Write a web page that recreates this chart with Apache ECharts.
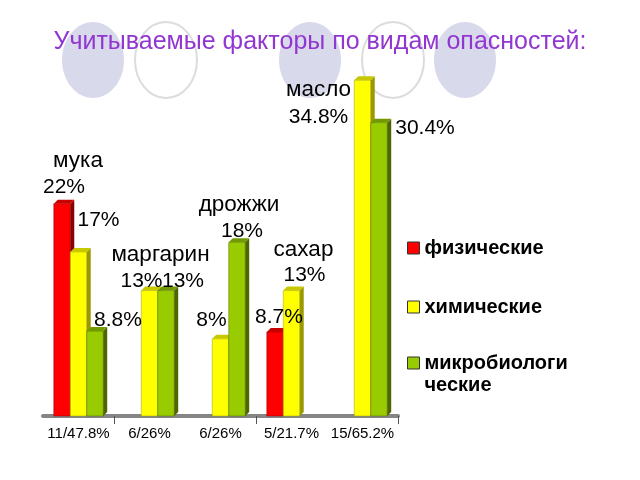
<!DOCTYPE html>
<html>
<head>
<meta charset="utf-8">
<script src="https://cdn.jsdelivr.net/npm/echarts@6/dist/echarts.min.js"></script>
<style>
  html, body { margin: 0; padding: 0; background: #fff; }
  #chart { width: 640px; height: 480px; }
</style>
</head>
<body>
<div id="chart"></div>
<script>
// data
const categories = ['11/47.8%', '6/26%', '6/26%', '5/21.7%', '15/65.2%']
const products = ['мука', 'маргарин', 'дрожжи', 'сахар', 'масло']
const seriesNames = ['физические', 'химические', 'микробиологические']
const physical = [22, null, null, 8.7, null]
const chemical = [17, 13, 8, 13, 34.8]
const microbio = [8.8, 13, 18, null, 30.4]

// label placement relative to the top of each bar (dx, dy)
const valueOffsets = [
  [[2, -16], null, null, [4, -15], null],
  [[20, -32], [-8, -9], [-9, -19], [13, -15], [-44, 37]],
  [[23, -11], [17, -9], [5, -11], null, [46, 6]],
]
const nameOffsets = [
  { s: 0, dx: 16, dy: -43 },
  { s: 1, dx: 11, dy: -36 },
  { s: 2, dx: 2, dy: -38 },
  { s: 1, dx: 12, dy: -41 },
  { s: 1, dx: -44, dy: 10 },
]

const front = ['#ff0000', '#ffff00', '#99cc00']
const side = ['#8c0000', '#9a9a00', '#4d6600']
const topFace = ['#c80000', '#c8c800', '#739900']
const fam = '"Liberation Sans", Arial, sans-serif'
const valueFont = '21px ' + fam
const nameFont = '22.5px ' + fam

const makeRender = (s) => (params, api) => {
  const c = api.value(0)
  const v = api.value(1)
  const base = api.coord([c, 0])
  const top = api.coord([c, v])
  const w = api.size([1, 0])[0] * 0.232
  const cx = base[0] + (s - 1) * w
  const x0 = cx - w / 2, x1 = cx + w / 2, y0 = top[1], y1 = base[1]
  const d = 4
  const children = [
    { type: 'rect', shape: { x: x0, y: y0, width: w, height: y1 - y0 }, style: { fill: front[s], stroke: side[s], lineWidth: 0.5 } },
    { type: 'polygon', shape: { points: [[x1, y0], [x1 + d, y0 - d], [x1 + d, y1 - d], [x1, y1]] }, style: { fill: side[s] } },
    { type: 'polygon', shape: { points: [[x0, y0], [x0 + d, y0 - d], [x1 + d, y0 - d], [x1, y0]] }, style: { fill: topFace[s] } },
  ]
  const off = valueOffsets[s][c]
  if (off) {
    children.push({ type: 'text', z2: 10, style: { text: v + '%', x: cx + off[0], y: y0 + off[1], font: valueFont, fill: '#000', align: 'center', verticalAlign: 'middle' } })
  }
  const n = nameOffsets[c]
  if (n && n.s === s) {
    children.push({ type: 'text', z2: 10, style: { text: products[c], x: cx + n.dx, y: y0 + n.dy, font: nameFont, fill: '#000', align: 'center', verticalAlign: 'middle' } })
  }
  return { type: 'group', children }
}

const toData = (arr) => arr.map((v, i) => [i, v]).filter(d => d[1] != null)

const circles = [
  { cx: 93, fill: true }, { cx: 166, fill: false }, { cx: 310, fill: true },
  { cx: 393, fill: false }, { cx: 465, fill: true },
]

const legendText = { fontSize: 20, fontWeight: 'bold', lineHeight: 22, color: '#000', fontFamily: fam }

var myChart = echarts.init(document.getElementById('chart'))
myChart.setOption({
  animation: false,
  title: {
    text: 'Учитываемые факторы по видам опасностей:',
    left: 'center', top: 30, padding: 0,
    textStyle: { color: '#9236d2', fontSize: 25, fontWeight: 'normal', fontFamily: fam },
  },
  graphic: circles.map(c => ({
    type: 'ellipse', z: -1, silent: true,
    shape: { cx: c.cx, cy: 60, rx: 31, ry: 38 },
    style: c.fill ? { fill: '#d9d9ec' } : { fill: '#fff', stroke: '#dcdcdc', lineWidth: 2 },
  })),
  legend: [
    {
      data: seriesNames.slice(0, 2), orient: 'vertical', left: 407, top: 237, padding: 0,
      itemWidth: 12, itemHeight: 12, itemGap: 37, icon: 'rect',
      itemStyle: { borderColor: '#333', borderWidth: 1 },
      textStyle: legendText,
    },
    {
      data: [seriesNames[2]],
      // leading empty line keeps the icon level with the first visible line
      formatter: () => '\nмикробиологи\nческие',
      orient: 'vertical', left: 407, top: 330, padding: 0,
      itemWidth: 12, itemHeight: 12, icon: 'rect',
      itemStyle: { borderColor: '#333', borderWidth: 1 },
      textStyle: legendText,
    },
  ],
  grid: { left: 43, right: 242, top: 30, bottom: 64 },
  xAxis: {
    type: 'category', data: categories,
    axisLine: { lineStyle: { color: '#858585', width: 4 } },
    axisTick: { show: true, lineStyle: { color: '#555', width: 1 }, length: 8, interval: (i) => i === 1 || i === 3 },
    axisLabel: { color: '#000', fontSize: 15, margin: 10, interval: 0, fontFamily: fam },
  },
  yAxis: { type: 'value', min: 0, max: 40, show: false, splitLine: { show: false } },
  series: [physical, chemical, microbio].map((arr, s) => ({
    name: seriesNames[s],
    type: 'custom',
    renderItem: makeRender(s),
    itemStyle: { color: front[s] },
    encode: { x: 0, y: 1 },
    data: toData(arr),
  })),
})
</script>
</body>
</html>
